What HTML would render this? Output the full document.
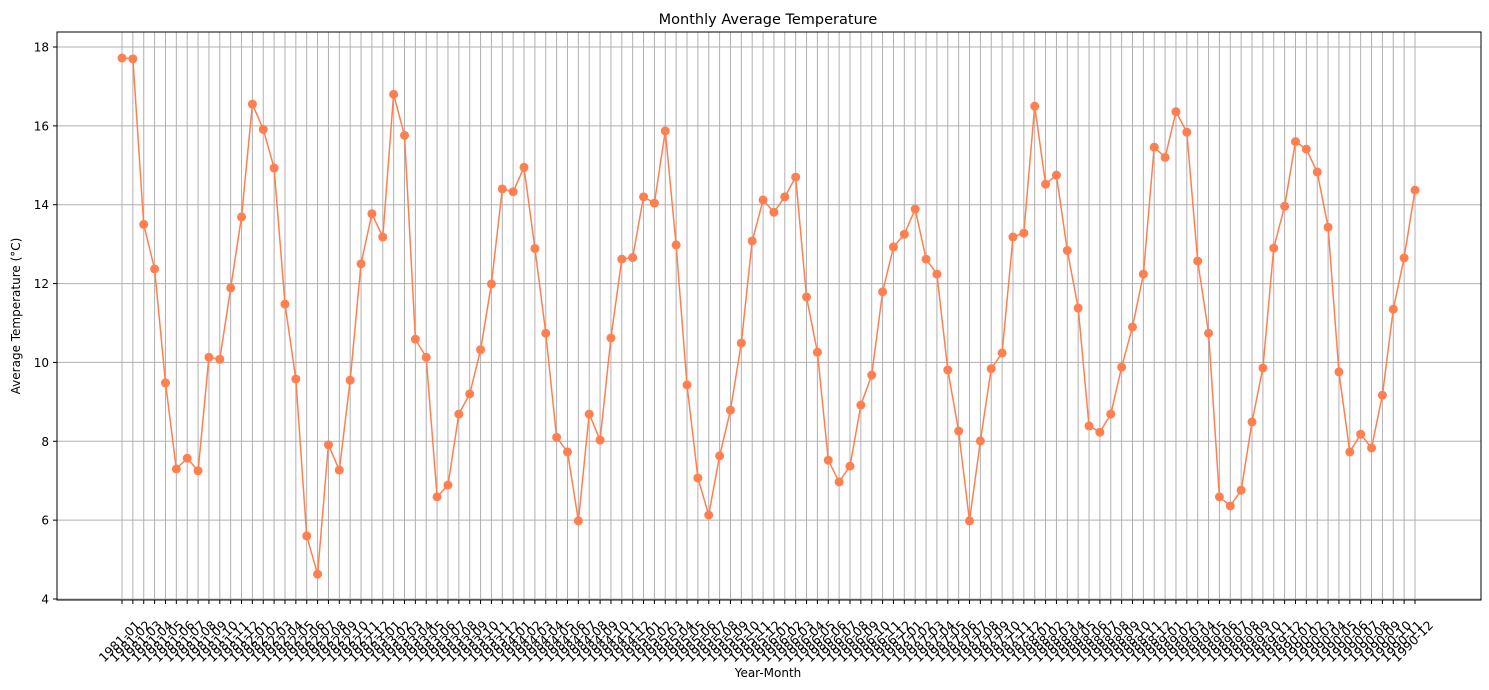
<!DOCTYPE html>
<html><head><meta charset="utf-8"><style>
html,body{margin:0;padding:0;background:#fff;}
svg{display:block;font-family:"DejaVu Sans","Liberation Sans",sans-serif;}
</style></head><body>
<svg id="chart" width="1489" height="690" xmlns="http://www.w3.org/2000/svg">
<rect x="0" y="0" width="1489" height="690" fill="#fff"/>
<text x="768" y="24" font-size="14.5" text-anchor="middle">Monthly Average Temperature</text>
<text x="768" y="677" font-size="12" text-anchor="middle">Year-Month</text>
<text x="20" y="316" font-size="12" text-anchor="middle" transform="rotate(-90 20 316)">Average Temperature (°C)</text>
<g id="grid"></g><g id="series"></g><g id="axes"></g>
</svg>
<script>
const temps = [17.72,17.7,13.5,12.37,9.48,7.3,7.57,7.25,10.13,10.08,11.89,13.69,
16.55,15.91,14.93,11.48,9.58,5.6,4.63,7.91,7.27,9.55,12.5,13.77,
13.18,16.8,15.76,10.59,10.13,6.59,6.89,8.69,9.2,10.32,11.99,14.4,
14.33,14.95,12.89,10.74,8.1,7.73,5.98,8.69,8.03,10.62,12.62,12.66,
14.2,14.04,15.87,12.98,9.43,7.07,6.13,7.63,8.79,10.49,13.08,14.12,
13.81,14.2,14.7,11.66,10.26,7.52,6.97,7.37,8.92,9.68,11.79,12.93,
13.25,13.89,12.62,12.24,9.81,8.26,5.98,8.01,9.84,10.24,13.18,13.28,
16.5,14.52,14.75,12.84,11.38,8.39,8.23,8.69,9.88,10.9,12.24,15.46,
15.2,16.36,15.84,12.57,10.74,6.59,6.36,6.76,8.49,9.86,12.9,13.96,
15.6,15.41,14.83,13.43,9.76,7.73,8.18,7.83,9.17,11.35,12.65,14.37];
const years = [1981,1982,1983,1984,1985,1986,1987,1988,1989,1990];
const months = ["01","02","03","04","05","06","07","08","09","10","11","12"];
const yTicks = [4,6,8,10,12,14,16,18];
const labels = [];
years.forEach(y=>months.forEach(m=>labels.push(y+"-"+m)));
const NS="http://www.w3.org/2000/svg";
const L=57,R=1481,T=32,B=600;
const X0=122,X1=1415;
function xs(i){return X0+(X1-X0)*i/(labels.length-1);}
function ys(v){return 599-(v-4)*(599-47)/14;}
function mk(tag,attrs,parent){const e=document.createElementNS(NS,tag);for(const k in attrs)e.setAttribute(k,attrs[k]);parent.appendChild(e);return e;}
const grid=document.getElementById('grid'),series=document.getElementById('series'),axes=document.getElementById('axes');
yTicks.forEach(t=>{
 const y=ys(t);
 const g=mk('line',{x1:L,x2:R,y1:y,y2:y,stroke:'#b0b0b0','stroke-width':1},grid);
 
 
 mk('line',{x1:L-4,x2:L,y1:y,y2:y,stroke:'#000','stroke-width':1},axes);
 const tx=mk('text',{x:L-8,y:y+4.5,'font-size':12,'text-anchor':'end'},axes);
 tx.textContent=t;
 
 
});
labels.forEach((lab,i)=>{
 const x=xs(i);
 const g=mk('line',{x1:x,x2:x,y1:T,y2:B,stroke:'#b0b0b0','stroke-width':1},grid);
 
 
 mk('line',{x1:x,x2:x,y1:B,y2:B+4,stroke:'#000','stroke-width':1},axes);
 const ax=x+19, ay=B+26;
 const tx=mk('text',{x:ax,y:ay,'font-size':12.5,'text-anchor':'end',transform:`rotate(-45 ${ax} ${ay})`},axes);
 tx.textContent=lab;
 
 
});
const frame=mk('rect',{x:L,y:T,width:R-L,height:B-T,fill:'none',stroke:'#000','stroke-width':1},axes);


const pts=temps.map((v,i)=>xs(i).toFixed(1)+','+ys(v).toFixed(1)).join(' ');
const line=mk('polyline',{points:pts,fill:'none',stroke:'#ff7f50','stroke-width':1.5},series);


temps.forEach((v,i)=>{
 const c=mk('circle',{cx:xs(i),cy:ys(v),r:4.5,fill:'#ff7f50'},series);
 
 
});
</script>
</body></html>
